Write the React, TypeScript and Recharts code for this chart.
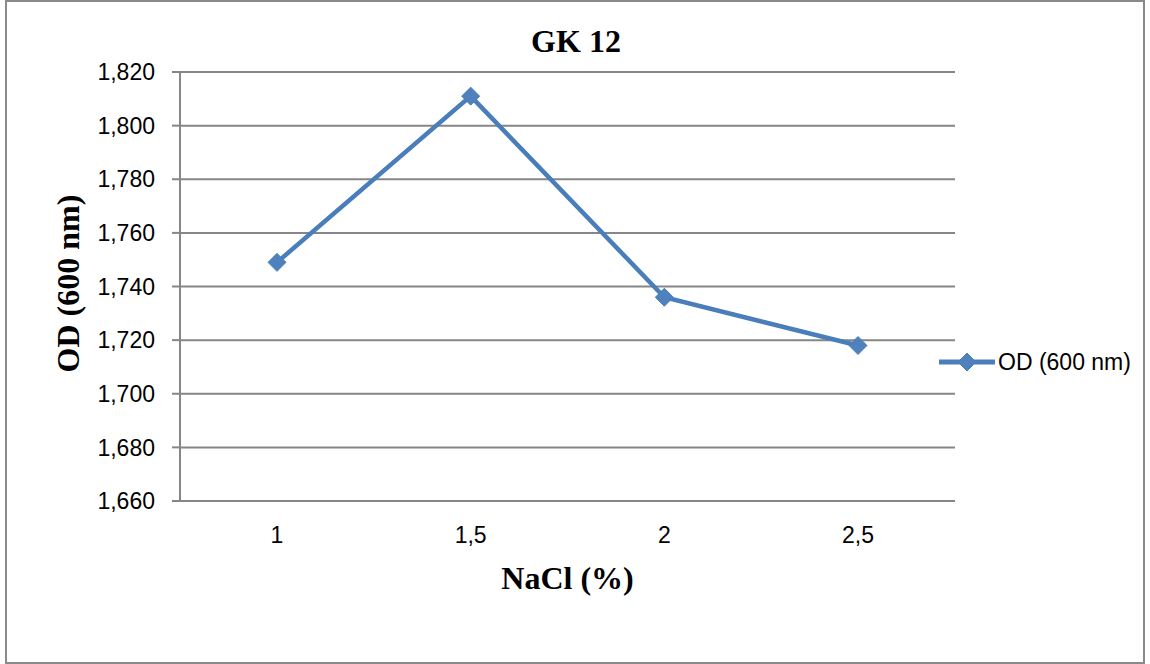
import { LineChart, Line, XAxis, YAxis, CartesianGrid, Legend } from 'recharts';

const nacl = ['1', '1,5', '2', '2,5'];
const od600 = [1.749, 1.811, 1.736, 1.718];
const yTicks = [1.66, 1.68, 1.7, 1.72, 1.74, 1.76, 1.78, 1.8, 1.82];

const data = nacl.map((n, i) => ({ nacl: n, od: od600[i] }));

const BLUE = '#4a7ebb';
const GRID = '#868686';
const SANS = '"Liberation Sans", Arial, sans-serif';
const SERIF = '"Liberation Serif", "Times New Roman", serif';

const fmt = (v: number) => v.toFixed(3).replace('.', ',');

const Diamond = (props: any) => {
  const { cx, cy } = props;
  if (cx == null || cy == null) return null;
  const r = 9;
  return (
    <path
      d={`M${cx},${cy - r} L${cx + r},${cy} L${cx},${cy + r} L${cx - r},${cy} Z`}
      fill="#4f81bd"
      stroke={BLUE}
      strokeWidth={1}
    />
  );
};

const LegendBox = () => (
  <svg width={210} height={30} style={{ overflow: 'visible' }}>
    <line x1={0} y1={15} x2={56} y2={15} stroke={BLUE} strokeWidth={5} />
    <Diamond cx={28} cy={15} />
    <text x={59} y={15} dy="0.355em" fontFamily={SANS} fontSize={23} fill="#000">
      OD (600 nm)
    </text>
  </svg>
);

export default function App() {
  return (
    <div style={{ position: 'absolute', left: 0, top: 0, width: 1150, height: 664, background: '#fff' }}>
      <div
        style={{
          position: 'absolute',
          left: 5,
          top: 0,
          width: 1140,
          height: 664,
          boxSizing: 'border-box',
          border: '2.5px solid #8a8a8a',
        }}
      />
      <LineChart width={1150} height={664} data={data} margin={{ top: 72, right: 195, bottom: 103, left: 80 }}>
        <CartesianGrid vertical={false} stroke={GRID} strokeWidth={2} />
        <XAxis
          dataKey="nacl"
          padding={{ left: 97, right: 97 }}
          height={60}
          axisLine={{ stroke: GRID, strokeWidth: 2 }}
          tickLine={false}
          tickSize={0}
          tickMargin={26}
          tick={{ fill: '#000', fontFamily: SANS, fontSize: 23 }}
          label={{
            content: ({ viewBox }: any) => (
              <text
                x={viewBox.x + viewBox.width / 2}
                y={589}
                textAnchor="middle"
                fontFamily={SERIF}
                fontWeight="bold"
                fontSize={32}
                fill="#000"
              >
                NaCl (%)
              </text>
            ),
          }}
        />
        <YAxis
          domain={[1.66, 1.82]}
          ticks={yTicks}
          width={100}
          interval={0}
          tickFormatter={fmt}
          axisLine={{ stroke: GRID, strokeWidth: 2 }}
          tickLine={{ stroke: GRID, strokeWidth: 2 }}
          tickSize={8}
          tickMargin={17}
          tick={{ fill: '#000', fontFamily: SANS, fontSize: 23 }}
          label={{
            content: ({ viewBox }: any) => {
              const cy = viewBox.y + viewBox.height / 2 - 3;
              return (
                <text
                  x={79}
                  y={cy}
                  transform={`rotate(-90, 79, ${cy})`}
                  textAnchor="middle"
                  fontFamily={SERIF}
                  fontWeight="bold"
                  fontSize={32}
                  fill="#000"
                >
                  OD (600 nm)
                </text>
              );
            },
          }}
        />
        <Legend
          layout="horizontal"
          align="center"
          verticalAlign="middle"
          content={() => <LegendBox />}
          wrapperStyle={{ left: 939, top: 347, width: 210, height: 30 }}
        />
        <text x={576} y={52} textAnchor="middle" fontFamily={SERIF} fontWeight="bold" fontSize={32} fill="#000">
          GK 12
        </text>
        <Line
          type="linear"
          dataKey="od"
          name="OD (600 nm)"
          stroke={BLUE}
          strokeWidth={4.5}
          dot={<Diamond />}
          activeDot={false}
          isAnimationActive={false}
        />
      </LineChart>
    </div>
  );
}
